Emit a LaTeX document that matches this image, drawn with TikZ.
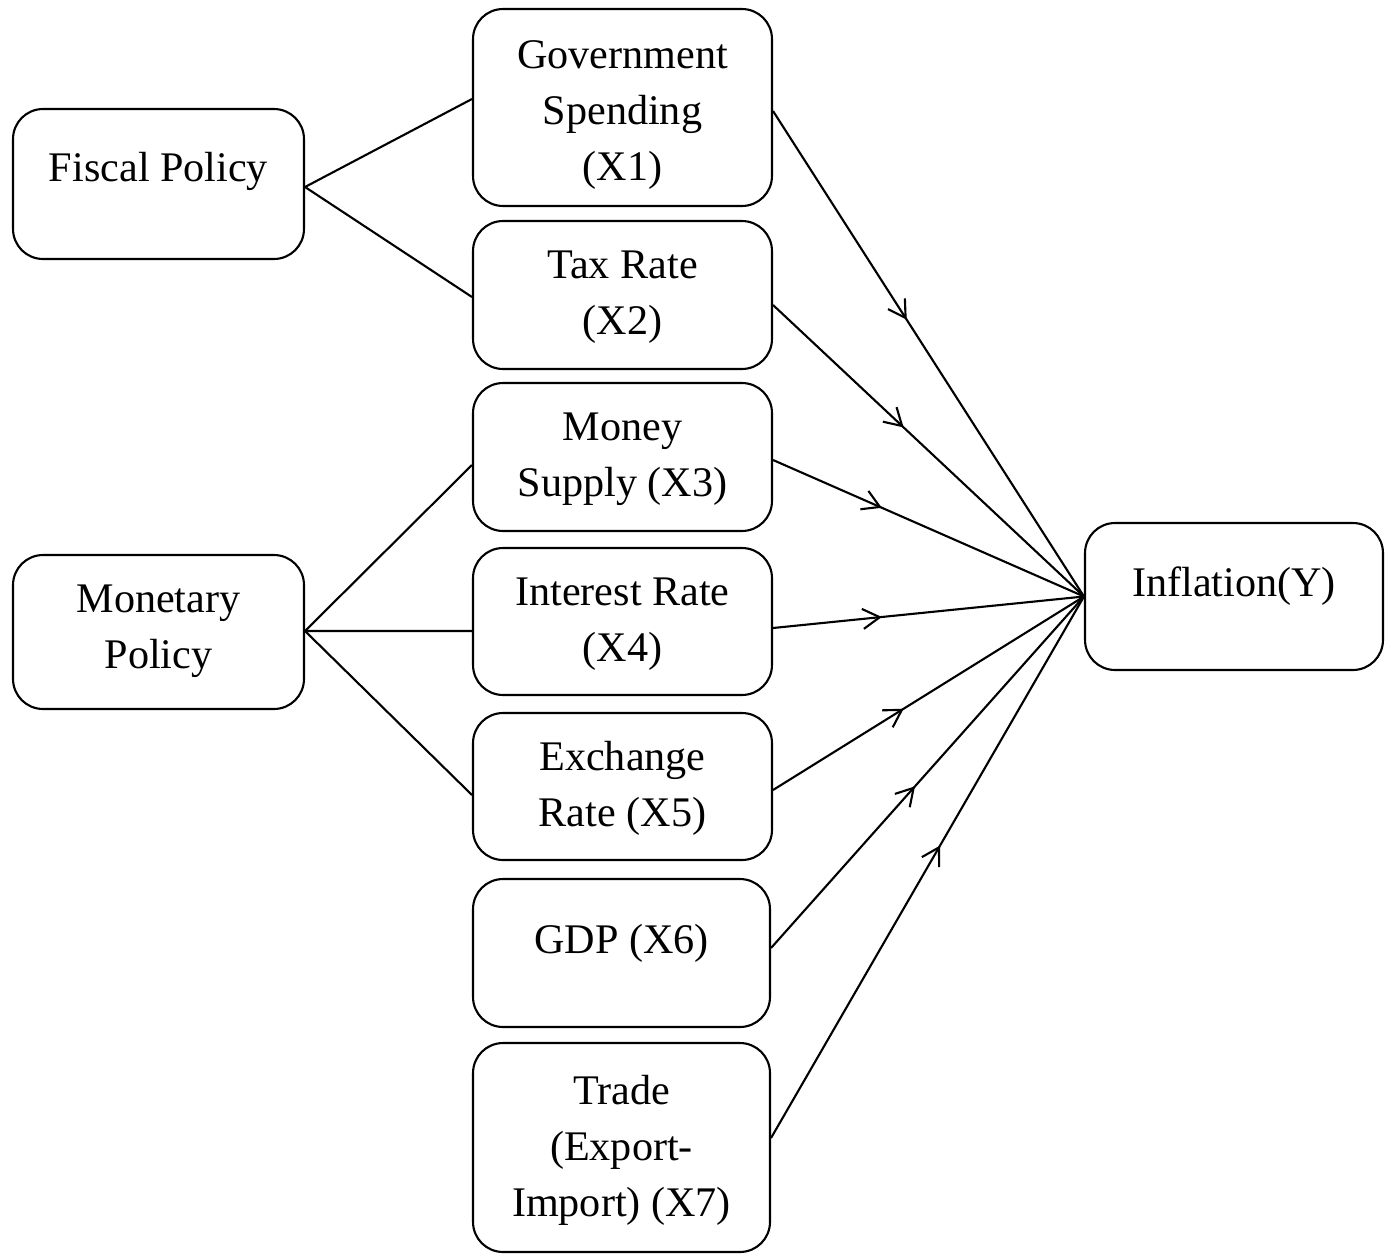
\documentclass[tikz,border=0pt]{standalone}
\usepackage{fontspec}
\setmainfont{Liberation Serif}
\usetikzlibrary{arrows.meta,decorations.markings}
\begin{document}
\begin{tikzpicture}[x=0.02cm,y=-0.02cm,
  box/.style={draw,line width=1.2pt,rounded corners=0.6cm,inner sep=0pt},
  txt/.style={align=center,inner sep=0pt,font=\fontsize{24pt}{31.8pt}\selectfont},
  link/.style={line width=1.2pt},
  midarrow/.style={line width=1.2pt,postaction={decorate,decoration={markings,
     mark=at position #1 with {\arrow{Straight Barb[length=0.34cm,width=0.4cm,line width=1.2pt]}}}}}]
\useasboundingbox (0,0) rectangle (1392,1254);
% boxes
\node[box,minimum width=5.82cm,minimum height=3.0cm] (fp) at (158.5,184) {};
\node[box,minimum width=5.82cm,minimum height=3.08cm] (mp) at (158.5,632) {};
\node[box,minimum width=5.98cm,minimum height=3.94cm] (x1) at (622.5,107.5) {};
\node[box,minimum width=5.98cm,minimum height=2.96cm] (x2) at (622.5,295) {};
\node[box,minimum width=5.98cm,minimum height=2.96cm] (x3) at (622.5,457) {};
\node[box,minimum width=5.98cm,minimum height=2.94cm] (x4) at (622.5,621.5) {};
\node[box,minimum width=5.98cm,minimum height=2.94cm] (x5) at (622.5,786.5) {};
\node[box,minimum width=5.94cm,minimum height=2.96cm] (x6) at (621.5,953) {};
\node[box,minimum width=5.94cm,minimum height=4.18cm] (x7) at (621.5,1147.5) {};
\node[box,minimum width=5.96cm,minimum height=2.94cm] (y) at (1234,596.5) {};
% texts
\node[txt] (fpt) at (158.5,171) {Fiscal Policy};
\node[txt] (mpt) at (158.5,631) {Monetary\\Policy};
\node[txt] (x1t) at (622.5,115) {Government\\Spending\\(X1)};
\node[txt] (x2t) at (622.5,297) {Tax Rate\\(X2)};
\node[txt] (x3t) at (622.5,459) {Money\\Supply (X3)};
\node[txt] (x4t) at (622.5,624) {Interest Rate\\(X4)};
\node[txt] (x5t) at (622.5,788) {Exchange\\Rate (X5)};
\node[txt] (x6t) at (621.5,943) {GDP (X6)};
\node[txt] (x7t) at (621.5,1150) {Trade\\(Export-\\Import) (X7)};
\node[txt] (yt) at (1234,586) {Inflation(Y)};
% left links
\draw[link] ([yshift=-0.06cm]fp.east) -- ([yshift=0.17cm]x1.west);
\draw[link] ([yshift=-0.06cm]fp.east) -- ([yshift=-0.04cm]x2.west);
\draw[link] ([yshift=0.02cm]mp.east) -- ([yshift=-0.16cm]x3.west);
\draw[link] ([yshift=0.02cm]mp.east) -- ([yshift=-0.19cm]x4.west);
\draw[link] ([yshift=0.02cm]mp.east) -- ([yshift=-0.17cm]x5.west);
% arrows to inflation
\draw[midarrow=0.43] ([yshift=-0.07cm]x1.east) -- (y.west);
\draw[midarrow=0.42] ([yshift=-0.2cm]x2.east) -- (y.west);
\draw[midarrow=0.35] ([yshift=-0.06cm]x3.east) -- (y.west);
\draw[midarrow=0.35] ([yshift=-0.13cm]x4.east) -- (y.west);
\draw[midarrow=0.42] ([yshift=-0.07cm]x5.east) -- (y.west);
\draw[midarrow=0.46] ([yshift=0.1cm]x6.east) -- (y.west);
\draw[midarrow=0.54] ([yshift=0.19cm]x7.east) -- (y.west);
\end{tikzpicture}
\end{document}
